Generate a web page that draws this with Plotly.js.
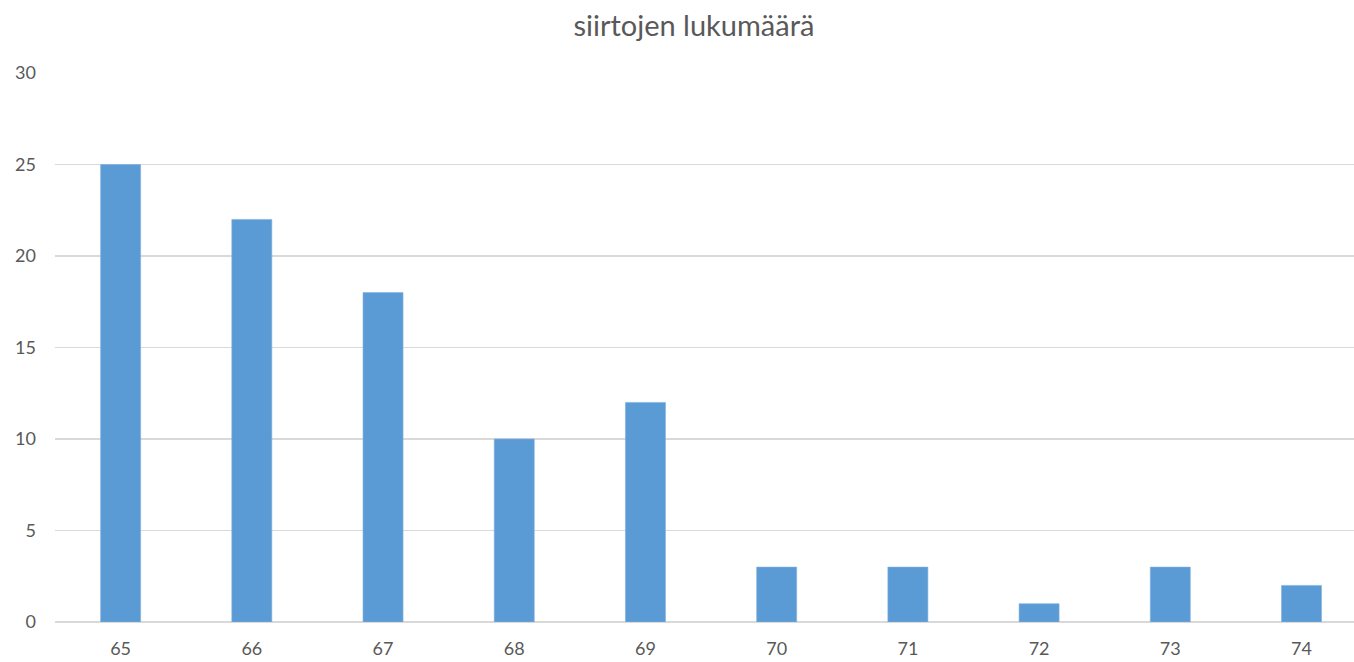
<!DOCTYPE html>
<html>
<head>
<meta charset="utf-8">
<script src="https://cdn.plot.ly/plotly-3.0.1.min.js"></script>
<style>html,body{margin:0;padding:0;overflow:hidden;background:#fff}#chart{width:1354px;height:662px}</style>
</head>
<body>
<div id="chart"></div>
<script>
const categories = ["65","66","67","68","69","70","71","72","73","74"];
const values = [25,22,18,10,12,3,3,1,3,2];
const yTicks = [0,5,10,15,20,25,30];
const titleText = "siirtojen lukumäärä";

const trace = {
  type: 'bar',
  x: categories,
  y: values,
  marker: {color: '#5B9BD5', line: {color: '#7FB0DE', width: 0.6}},
  hoverinfo: 'x+y'
};
const layout = {
  width: 1354, height: 662,
  margin: {l: 55, r: 0, t: 73, b: 40},
  paper_bgcolor: '#fff', plot_bgcolor: '#fff',
  font: {family: 'Lato, "Open Sans", sans-serif', color: '#595959', size: 16},
  title: {text: titleText, x: 0.5125, xanchor: 'center', y: 0.961, yanchor: 'middle', yref: 'container',
          font: {size: 29, color: '#595959', family: 'Lato, "Open Sans", sans-serif'}},
  bargap: 0.695,
  showlegend: false,
  xaxis: {type: 'category', range: [-0.5, 9.4], showgrid: false, zeroline: false, showline: false,
          ticks: '', ticklabelstandoff: 14, tickfont: {size: 18, color: '#595959'}, fixedrange: true},
  yaxis: {range: [0, 30], tickvals: yTicks, ticktext: yTicks.map(String), showgrid: true,
          gridcolor: '#D9D9D9', gridwidth: 1.3, zeroline: true, zerolinecolor: '#D9D9D9', zerolinewidth: 2,
          showline: false, ticks: '', ticklabelstandoff: 18, tickfont: {size: 18, color: '#595959'}, fixedrange: true}
};
Plotly.newPlot('chart', [trace], layout, {displayModeBar: false, staticPlot: true});
</script>
</body>
</html>
